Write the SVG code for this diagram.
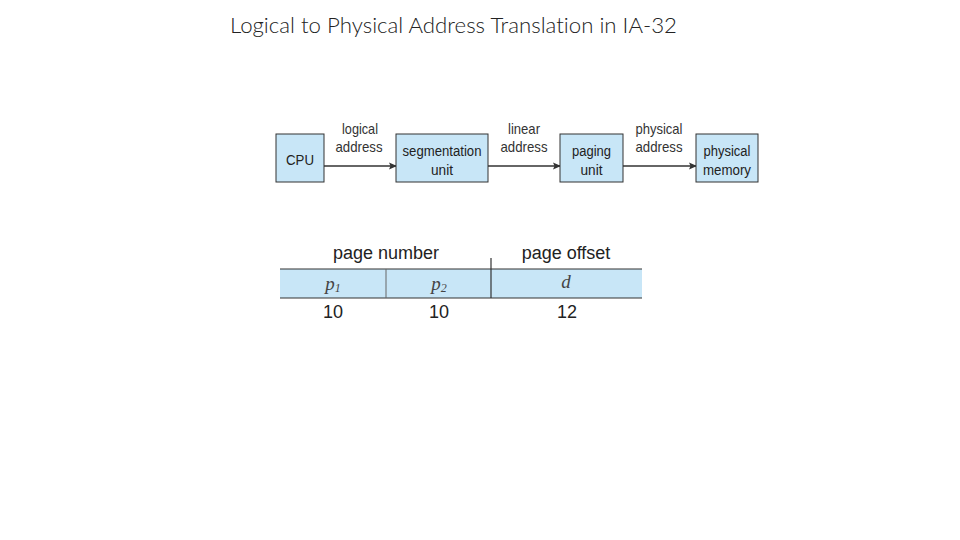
<svg xmlns="http://www.w3.org/2000/svg" width="960" height="540" viewBox="0 0 960 540">
<style>
.title{font-family:Lato,"Open Sans","Liberation Sans",sans-serif;font-weight:300;font-size:21px;fill:#222;font-variant-ligatures:none}
.box{fill:#c8e6f7;stroke:#333;stroke-width:1}
.t{font-family:"Liberation Sans",Arial,sans-serif;font-size:15.5px;fill:#222;text-anchor:middle}
.lbl{font-family:"Liberation Sans",Arial,sans-serif;font-size:14.5px;fill:#333;text-anchor:middle}
.tb{font-family:"Liberation Sans",Arial,sans-serif;font-size:18px;fill:#222;text-anchor:middle}
.it{font-family:"Liberation Serif",serif;font-style:italic;font-size:19px;fill:#444;text-anchor:middle}
.conn{stroke:#333;stroke-width:1.5;fill:none;marker-end:url(#ah)}
.line{stroke:#333;stroke-width:1.2}
</style>
<defs>
<marker id="ah" markerWidth="8" markerHeight="8" refX="7" refY="4" orient="auto" markerUnits="userSpaceOnUse">
<path d="M0,0.5 L8,4 L0,7.5 L1.5,4 z" fill="#333"/>
</marker>
</defs>
<rect width="960" height="540" fill="#fff"/>
<text class="title" x="230" y="33" textLength="447" lengthAdjust="spacingAndGlyphs">Logical to Physical Address Translation in IA-32</text>
<g id="connectors">
<line class="conn" x1="324" y1="166" x2="396" y2="166"/>
<line class="conn" x1="488" y1="166" x2="560" y2="166"/>
<line class="conn" x1="623" y1="166" x2="696" y2="166"/>
<text class="lbl" x="360" y="134" textLength="36" lengthAdjust="spacingAndGlyphs">logical</text>
<text class="lbl" x="359" y="152" textLength="47" lengthAdjust="spacingAndGlyphs">address</text>
<text class="lbl" x="524" y="134" textLength="32" lengthAdjust="spacingAndGlyphs">linear</text>
<text class="lbl" x="524" y="152" textLength="47" lengthAdjust="spacingAndGlyphs">address</text>
<text class="lbl" x="659" y="134" textLength="47" lengthAdjust="spacingAndGlyphs">physical</text>
<text class="lbl" x="659" y="152" textLength="47" lengthAdjust="spacingAndGlyphs">address</text>
</g>
<g id="cpu">
<rect class="box" x="276" y="134" width="48" height="48"/>
<text class="t" x="300" y="165" textLength="28" lengthAdjust="spacingAndGlyphs">CPU</text>
</g>
<g id="segmentation">
<rect class="box" x="396" y="134" width="92" height="48"/>
<text class="t" x="442" y="156" textLength="79" lengthAdjust="spacingAndGlyphs">segmentation</text>
<text class="t" x="442" y="175" textLength="22" lengthAdjust="spacingAndGlyphs">unit</text>
</g>
<g id="paging">
<rect class="box" x="560" y="134" width="63" height="48"/>
<text class="t" x="591.5" y="156" textLength="39" lengthAdjust="spacingAndGlyphs">paging</text>
<text class="t" x="591.5" y="175" textLength="22" lengthAdjust="spacingAndGlyphs">unit</text>
</g>
<g id="memory">
<rect class="box" x="696" y="134" width="62" height="48"/>
<text class="t" x="727" y="156" textLength="47" lengthAdjust="spacingAndGlyphs">physical</text>
<text class="t" x="727" y="175" textLength="48" lengthAdjust="spacingAndGlyphs">memory</text>
</g>
<g id="address-format">
<rect x="280" y="269" width="362" height="29" fill="#c8e6f7"/>
<line class="line" x1="280" y1="269" x2="642" y2="269"/>
<line class="line" x1="280" y1="298" x2="642" y2="298"/>
<line x1="386" y1="269" x2="386" y2="298" stroke="#666" stroke-width="1"/>
<line class="line" x1="491" y1="258" x2="491" y2="298"/>
<text class="tb" x="386" y="259">page number</text>
<text class="tb" x="566" y="259">page offset</text>
<text class="it" x="333" y="290">p<tspan font-size="12" dy="2">1</tspan></text>
<text class="it" x="439" y="290">p<tspan font-size="12" dy="2">2</tspan></text>
<text class="it" x="566" y="288">d</text>
<text class="tb" x="333" y="318" font-size="17">10</text>
<text class="tb" x="439" y="318" font-size="17">10</text>
<text class="tb" x="567" y="318" font-size="17">12</text>
</g>
</svg>
